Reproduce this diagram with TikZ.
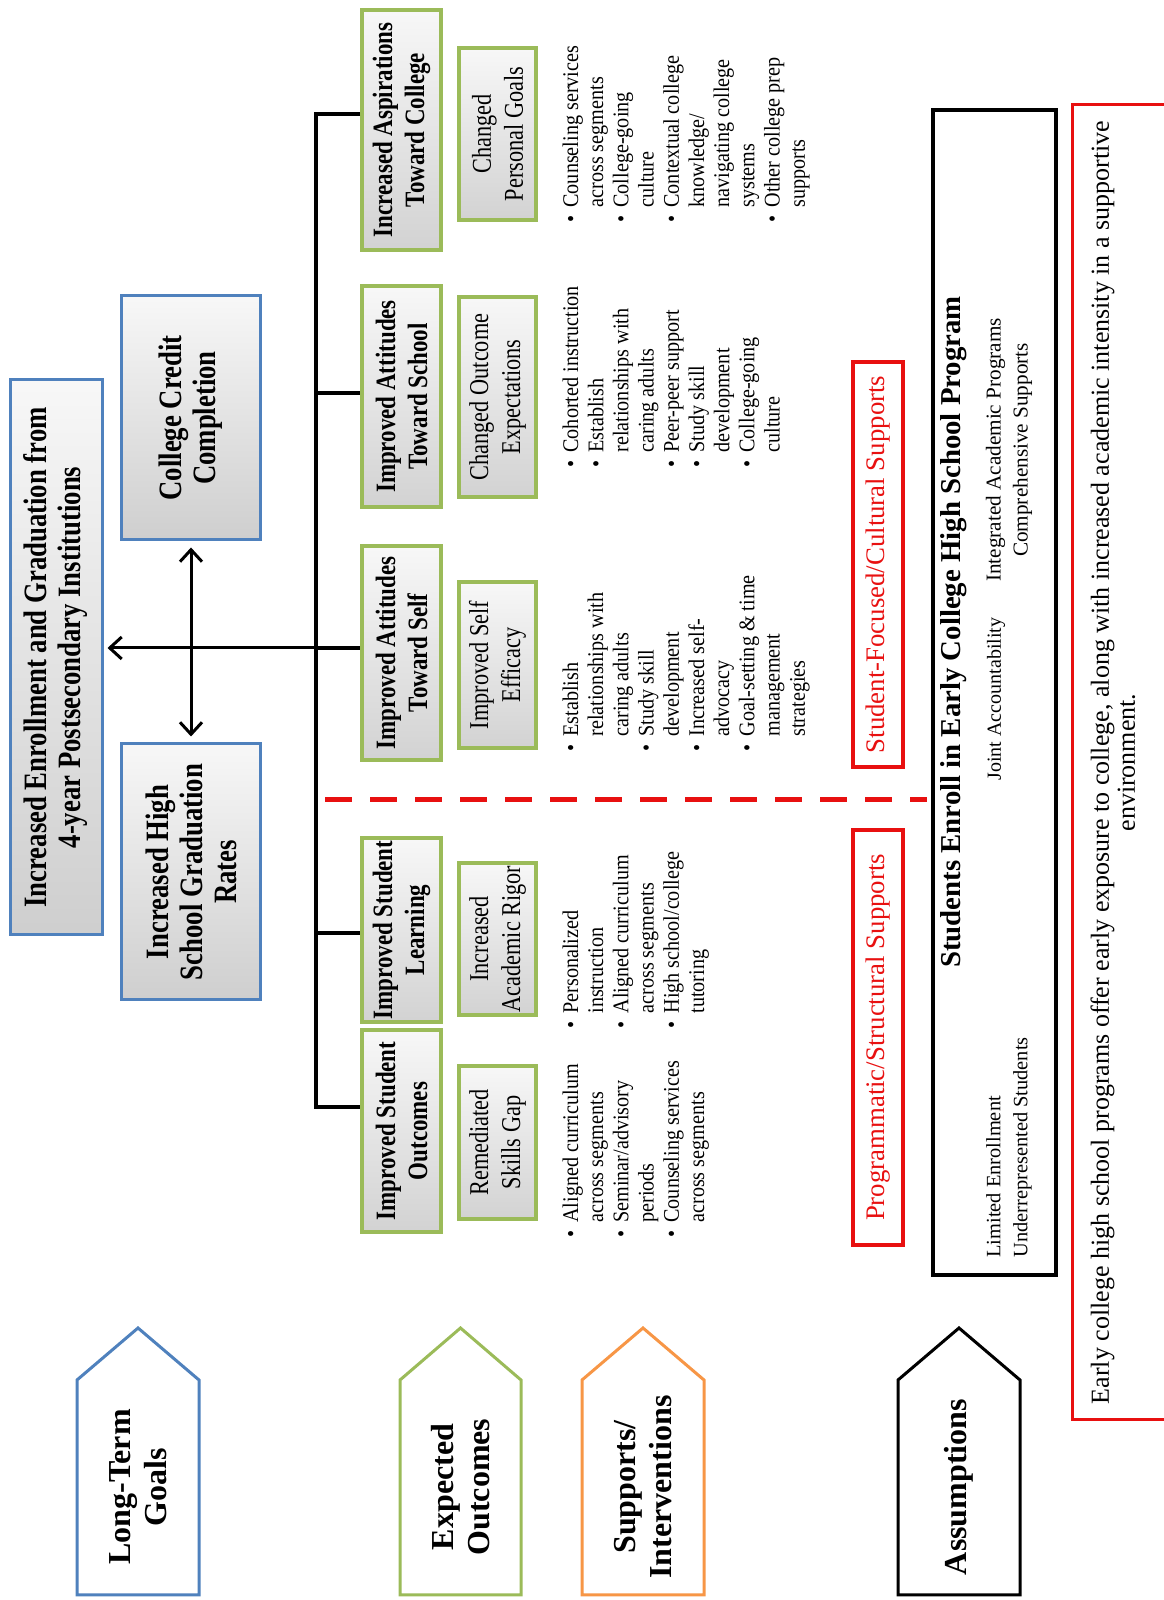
\documentclass[tikz,border=0pt]{standalone}
\usepackage{fontspec}
\setmainfont{Liberation Serif}
\newfontfamily\cf{Liberation Serif}[FakeStretch=0.82]
\newfontfamily\cfm{Liberation Serif}[FakeStretch=0.9]
\usetikzlibrary{arrows.meta}
\definecolor{ublue}{RGB}{79,129,189}
\definecolor{ugreen}{RGB}{155,187,89}
\definecolor{uorange}{RGB}{247,150,70}
\definecolor{ured}{RGB}{232,16,16}
\tikzset{
 goalbox/.style={draw=ublue, line width=1.5pt, top color=gray!6, bottom color=gray!38, align=center, inner sep=0pt, font=\cf\bfseries\fontsize{16.3}{17}\selectfont},
 outbox/.style={draw=ugreen, line width=1.8pt, top color=gray!6, bottom color=gray!35, align=center, inner sep=0pt, minimum height=39.5pt, font=\cf\bfseries\fontsize{14}{16}\selectfont},
 subbox/.style={outbox, minimum height=38.5pt, font=\cf\fontsize{13.6}{16}\selectfont},
 suppbox/.style={draw=ured, line width=2pt, text=ured, inner sep=0pt, minimum height=25pt, font=\fontsize{13.4}{15}\selectfont},
 lblshape/.style={line width=1.5pt, fill=white, line join=miter},
 lbl/.style={align=center, inner sep=0pt, font=\bfseries\fontsize{16}{18}\selectfont},
 lst/.style={anchor=north west, inner sep=0pt, font=\cfm\fontsize{11.2}{12.6}\selectfont},
 tree/.style={line width=2pt, line join=miter},
 arr/.style={line width=1.5pt, -{Straight Barb[length=6pt,width=11pt]}},
 darr/.style={line width=1.5pt, {Straight Barb[length=6pt,width=11pt]}-{Straight Barb[length=6pt,width=11pt]}, shorten <=3pt, shorten >=3pt},
 rdash/.style={draw=ured, line width=2.5pt, dash pattern=on 13.5pt off 9pt},
 astitle/.style={inner sep=0pt, font=\bfseries\fontsize{14.4}{16}\selectfont},
 astext/.style={inner sep=0pt, font=\fontsize{10.2}{13.5}\selectfont},
 endtext/.style={inner sep=0pt, align=center, font=\fontsize{13}{13}\selectfont}
}
\begin{document}
\begin{tikzpicture}[x=0.5pt,y=-0.5pt]
\begin{scope}[rotate=90, transform shape]
\path[use as bounding box] (0,0) rectangle (1600,1163);

% side labels
\draw[lblshape, draw=ublue] (5,77) -- (220,77) -- (272,138) -- (220,199) -- (5,199) -- cycle;
\node[lbl] (L1) at (113,138) {Long-Term\\Goals};
\draw[lblshape, draw=ugreen] (5,400) -- (220,400) -- (272,460.5) -- (220,521) -- (5,521) -- cycle;
\node[lbl] (L2) at (113,460.5) {Expected\\Outcomes};
\draw[lblshape, draw=uorange] (5,582) -- (220,582) -- (272,643) -- (220,704) -- (5,704) -- cycle;
\node[lbl] (L3) at (113,643) {Supports/\\Interventions};
\draw[lblshape, draw=black] (5,898) -- (220,898) -- (272,959) -- (220,1020) -- (5,1020) -- cycle;
\node[lbl] (L4) at (113,959) {Assumptions};

% long-term goals
\node[goalbox, minimum width=277.5pt, minimum height=46pt] (G1) at (942.5,56) {Increased Enrollment and Graduation from\\4-year Postsecondary Institutions};
\node[goalbox, minimum width=122pt, minimum height=69.5pt] (G2) at (1182,191) {College Credit\\Completion};
\node[goalbox, minimum width=128pt, minimum height=69.5pt] (G3) at (728,191) {Increased High\\School Graduation\\Rates};

% expected outcomes
\node[outbox, minimum width=120pt] (o1) at (1470,401.5) {Increased Aspirations\\Toward College};
\node[outbox, minimum width=110.5pt] (o2) at (1203.5,401.5) {Improved Attitudes\\Toward School};
\node[outbox, minimum width=107pt] (o3) at (947,401.5) {Improved Attitudes\\Toward Self};
\node[outbox, minimum width=92pt] (o4) at (670,401.5) {Improved Student\\Learning};
\node[outbox, minimum width=101pt] (o5) at (469,401.5) {Improved Student\\Outcomes};

\node[subbox, minimum width=86pt] (s1) at (1466,497.5) {Changed\\Personal Goals};
\node[subbox, minimum width=100pt] (s2) at (1203,497.5) {Changed Outcome\\Expectations};
\node[subbox, minimum width=83pt] (s3) at (935,497.5) {Improved Self\\Efficacy};
\node[subbox, minimum width=76pt] (s4) at (661,497.5) {Increased\\Academic Rigor};
\node[subbox, minimum width=76.5pt] (s5) at (457.5,497.5) {Remediated\\Skills Gap};

% tree and arrows
\coordinate (t1) at (1486,316);
\coordinate (t2) at (1207,316);
\coordinate (t3) at (952,316);
\coordinate (t4) at (667,316);
\coordinate (t5) at (493,316);
\draw[tree] (t1 |- o1.north) -- (t1) -- (t5) -- (t5 |- o5.north);
\draw[tree] (t2) -- (t2 |- o2.north);
\draw[tree] (t3) -- (t3 |- o3.north);
\draw[tree] (t4) -- (t4 |- o4.north);
\draw[arr] (t3) -- ([yshift=-2pt]t3 |- G1.south);
\draw[darr] (G2.west) -- (G3.east);

% bullet lists
\node[lst] (l1) at (1377,560) {\begin{tabular}{@{}l@{\hspace{4pt}}l@{}}
\textbullet & Counseling services\\ & across segments\\ \textbullet & College-going\\ & culture\\ \textbullet & Contextual college\\ & knowledge/\\ & navigating college\\ & systems\\ \textbullet & Other college prep\\ & supports\end{tabular}};
\node[lst] (l2) at (1132,560) {\begin{tabular}{@{}l@{\hspace{4pt}}l@{}}
\textbullet & Cohorted instruction\\ \textbullet & Establish\\ & relationships with\\ & caring adults\\ \textbullet & Peer-peer support\\ \textbullet & Study skill\\ & development\\ \textbullet & College-going\\ & culture\end{tabular}};
\node[lst] (l3) at (848,560) {\begin{tabular}{@{}l@{\hspace{4pt}}l@{}}
\textbullet & Establish\\ & relationships with\\ & caring adults\\ \textbullet & Study skill\\ & development\\ \textbullet & Increased self-\\ & advocacy\\ \textbullet & Goal-setting \& time\\ & management\\ & strategies\end{tabular}};
\node[lst] (l4) at (571,560) {\begin{tabular}{@{}l@{\hspace{4pt}}l@{}}
\textbullet & Personalized\\ & instruction\\ \textbullet & Aligned curriculum\\ & across segments\\ \textbullet & High school/college\\ & tutoring\end{tabular}};
\node[lst] (l5) at (362,560) {\begin{tabular}{@{}l@{\hspace{4pt}}l@{}}
\textbullet & Aligned curriculum\\ & across segments\\ \textbullet & Seminar/advisory\\ & periods\\ \textbullet & Counseling services\\ & across segments\end{tabular}};

% dashed divider
\coordinate (d1) at (800,325);
\coordinate (d2) at (800,927);
\draw[rdash] (d1) -- (d2);

% supports
\node[suppbox, minimum width=207.5pt] (P1) at (562.5,878) {Programmatic/Structural Supports};
\node[suppbox, minimum width=202.5pt] (P2) at (1035.5,878) {Student-Focused/Cultural Supports};

% assumptions
\node[draw, line width=2pt, minimum width=582.5pt, minimum height=61.5pt] (AS) at (907.5,994.5) {};
\node[astitle] (AT) at (968,954) {Students Enroll in Early College High School Program};
\node[astext, anchor=west, align=left] (AL) at (342,1009) {Limited Enrollment\\Underrepresented Students};
\node[astext, font=\fontsize{10}{13.5}\selectfont] (AJ) at (901,996) {Joint Accountability};
\node[astext, align=center, font=\fontsize{10.6}{13.5}\selectfont] (AR) at (1150,1009) {Integrated Academic Programs\\Comprehensive Supports};

% bottom statement
\node[draw=ured, line width=1.5pt, minimum width=657.5pt, minimum height=51.5pt] (EB) at (837.5,1123.5) {};
\node[endtext] (ET) at (837.5,1113) {Early college high school programs offer early exposure to college, along with increased academic intensity in a supportive\\environment.};
\end{scope}
\end{tikzpicture}
\end{document}
